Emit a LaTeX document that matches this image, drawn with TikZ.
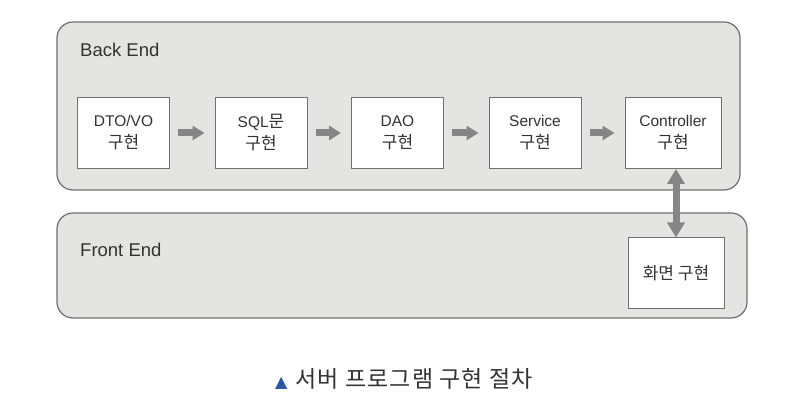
\documentclass[tikz,border=0pt]{standalone}
\usepackage{fontspec}
\setmainfont{Liberation Sans}
\newfontfamily\krfont{Noto Sans CJK KR}
\newfontfamily\krcapfont[LetterSpace=5]{Noto Sans CJK KR}
\newcommand{\kr}[1]{{\krfont\fontsize{17}{22}\selectfont #1}}
\usetikzlibrary{arrows.meta}
\definecolor{panelfill}{HTML}{E4E4E2}
\definecolor{panelline}{HTML}{707070}
\definecolor{arrowgray}{HTML}{858585}
\definecolor{capblue}{HTML}{2B55A5}
\definecolor{inktext}{HTML}{333333}
\begin{document}
\begin{tikzpicture}[x=1pt,y=-1pt,
  panel/.style={draw=panelline,fill=panelfill,line width=1.2pt,rounded corners=16pt},
  stepbox/.style={draw=panelline,fill=white,line width=1pt,minimum width=92pt,minimum height=71pt,inner sep=0pt,align=center,text=inktext,font=\fontsize{15.5}{22}\selectfont},
  plabel/.style={anchor=west,inner sep=0pt,text=inktext,font=\fontsize{18.5}{21}\selectfont},
  flow/.style={draw=arrowgray,line width=7pt,-{Triangle[length=12pt,width=14pt]},shorten <=8pt,shorten >=10pt},
  dflow/.style={draw=arrowgray,line width=7pt,{Triangle[length=15pt,width=17pt]}-{Triangle[length=15pt,width=17pt]}}]
\useasboundingbox (0,0) rectangle (812,406);
\fill[white] (0,0) rectangle (812,406);
\draw[panel] (57,22) rectangle (740,190);
\draw[panel] (57,213) rectangle (747,318);
\node[plabel] (be) at (80,50) {Back End};
\node[plabel] (fe) at (80,250) {Front End};
\node[stepbox] (dto) at (123.5,133) {DTO/VO\\\kr{구현}};
\node[stepbox] (sql) at (261,133) {SQL\kr{문}\\\kr{구현}};
\node[stepbox] (dao) at (397.5,133) {DAO\\\kr{구현}};
\node[stepbox] (svc) at (535,133) {Service\\\kr{구현}};
\node[stepbox,minimum width=96pt] (ctl) at (673,133) {Controller\\\kr{구현}};
\node[stepbox,minimum width=96pt] (ui) at (676,273.5) {\kr{화면 구현}};
\draw[flow] (dto.east) -- (sql.west);
\draw[flow] (sql.east) -- (dao.west);
\draw[flow] (dao.east) -- (svc.west);
\draw[flow] (svc.east) -- (ctl.west);
\draw[dflow] (ctl.south -| ui.north) -- (ui.north);
\node[text=inktext] (cap) at (404,379) {\fontsize{23}{26}\selectfont{\color{capblue}\fontspec{DejaVu Sans}\fontsize{16}{18}\selectfont ▲}\hspace{8pt}{\krcapfont 서버 프로그램 구현 절차}};
\end{tikzpicture}
\end{document}
